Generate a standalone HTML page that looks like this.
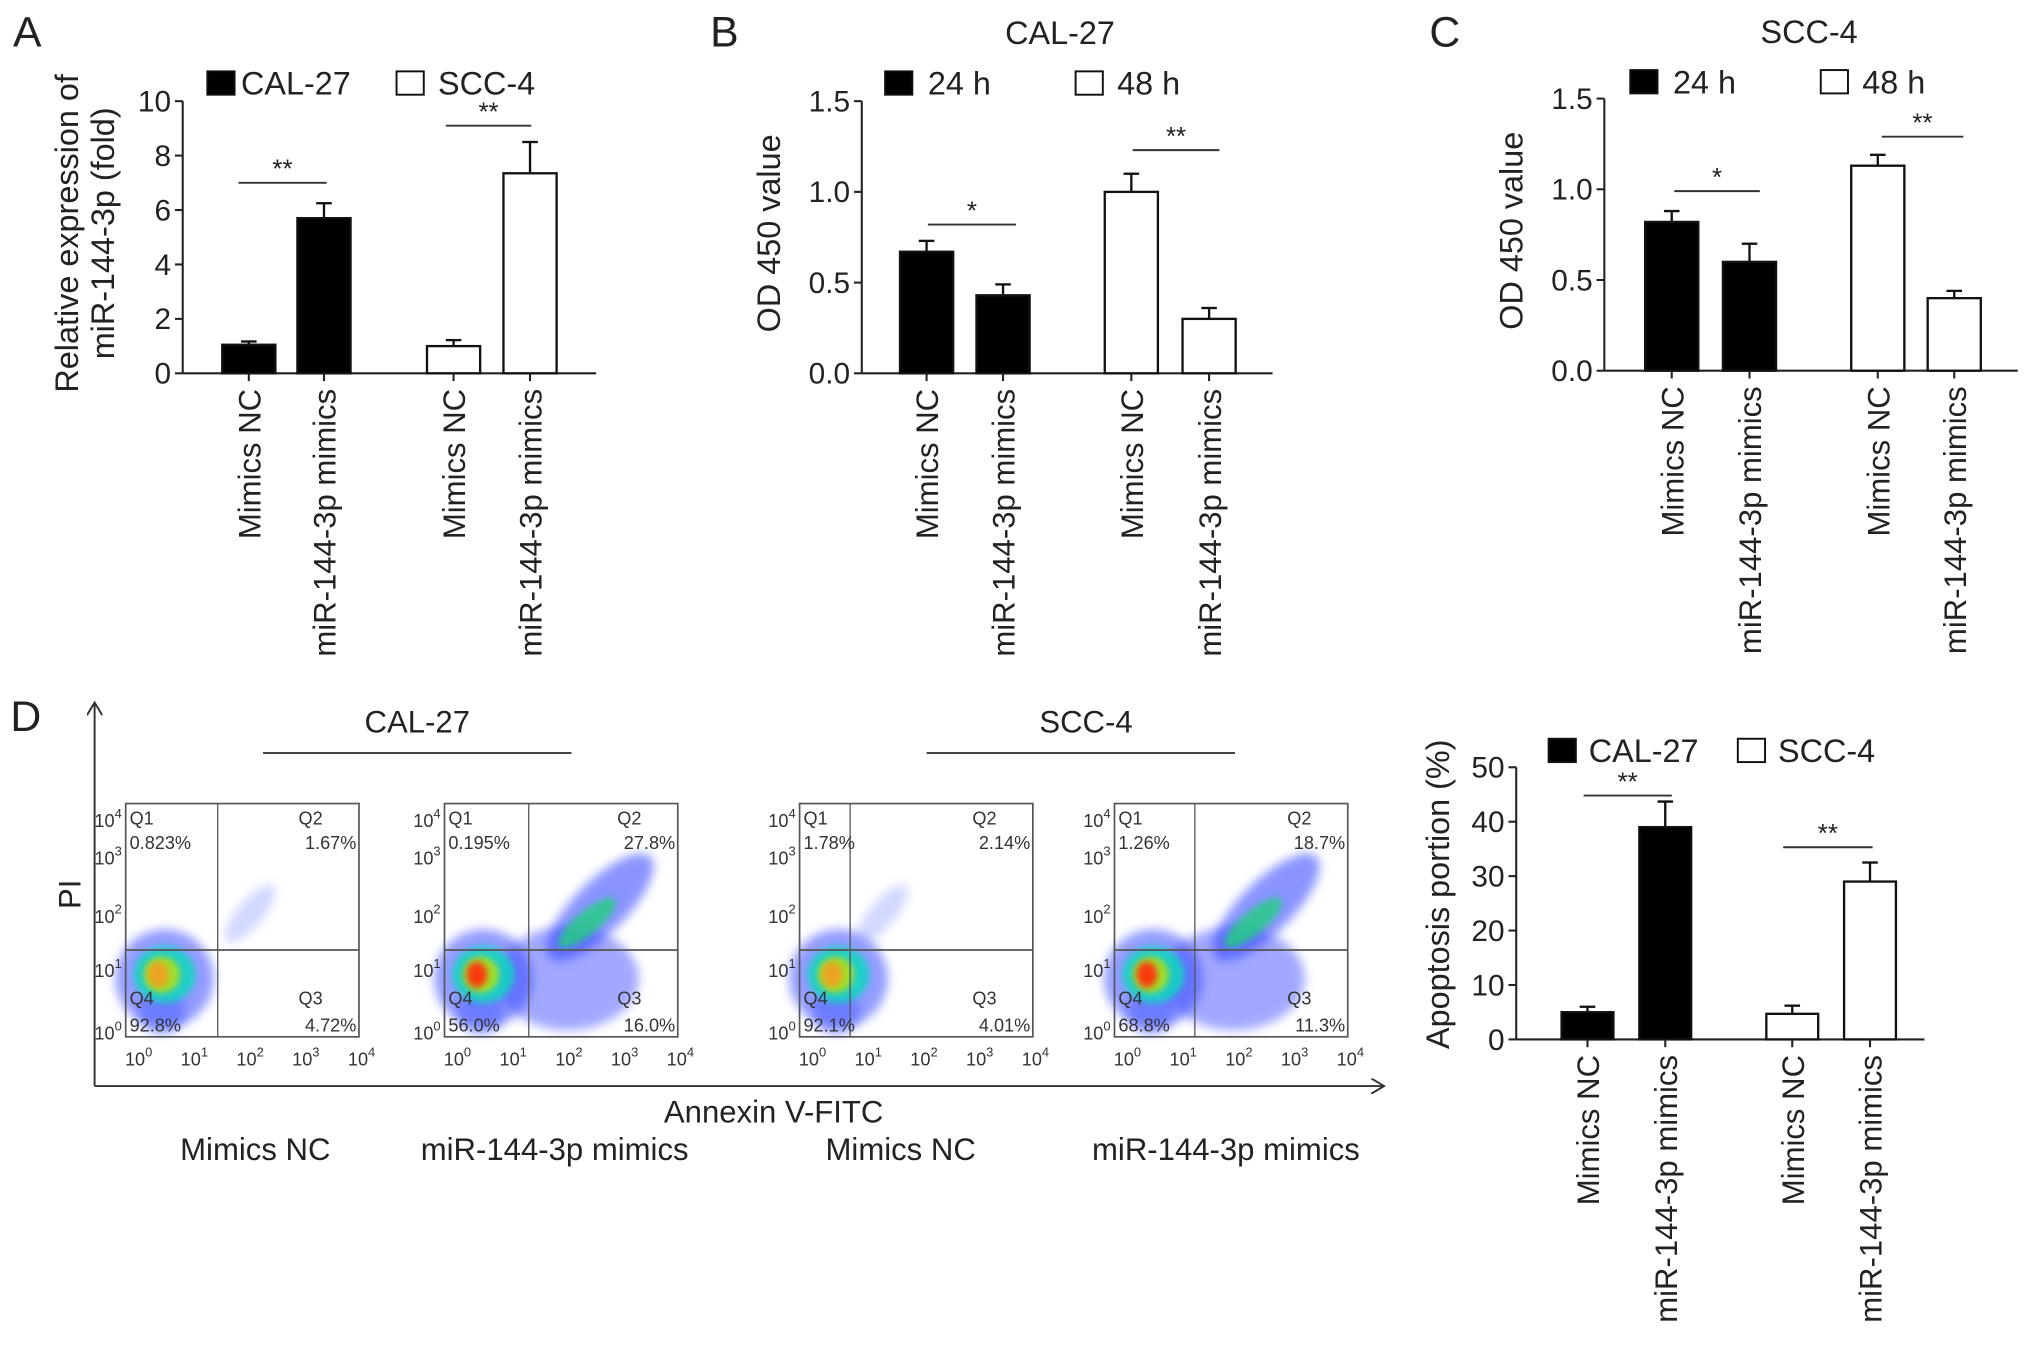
<!DOCTYPE html>
<html><head><meta charset="utf-8"><style>
html,body{margin:0;padding:0;background:#fff}
svg{display:block;font-family:"Liberation Sans",Arial,sans-serif}
</style></head><body>
<svg id="fig" width="2032" height="1357" viewBox="0 0 1568 1047" xmlns="http://www.w3.org/2000/svg">
<defs>
<filter id="blur" x="-50%" y="-50%" width="200%" height="200%"><feGaussianBlur stdDeviation="4"/></filter>
<filter id="blur2" x="-50%" y="-50%" width="200%" height="200%"><feGaussianBlur stdDeviation="2.5"/></filter>
<marker id="arr" markerWidth="12" markerHeight="12" refX="10" refY="6" orient="auto" markerUnits="userSpaceOnUse"><path d="M0,0 L10,6 L0,12" fill="none" stroke="#333" stroke-width="1.5"/></marker>
</defs>
<g id="root"></g>
</svg>
<script>
// ---- Panel A data ----
const aCategories = ["Mimics NC","miR-144-3p mimics","Mimics NC","miR-144-3p mimics"];
const aValues = [1.05, 5.7, 1.0, 7.35];
const aErrors = [0.12, 0.55, 0.22, 1.15];
const aTicks = [0,2,4,6,8,10];
// ---- Panel B data ----
const bCategories = ["Mimics NC","miR-144-3p mimics","Mimics NC","miR-144-3p mimics"];
const bValues = [0.67, 0.43, 1.0, 0.30];
const bErrors = [0.06, 0.06, 0.10, 0.06];
const bTicks = ["0.0","0.5","1.0","1.5"];
// ---- Panel C data ----
const cCategories = ["Mimics NC","miR-144-3p mimics","Mimics NC","miR-144-3p mimics"];
const cValues = [0.82, 0.60, 1.13, 0.40];
const cErrors = [0.06, 0.10, 0.06, 0.04];
const cTicks = ["0.0","0.5","1.0","1.5"];
// ---- Panel D bar data ----
const dCategories = ["Mimics NC","miR-144-3p mimics","Mimics NC","miR-144-3p mimics"];
const dValues = [5.0, 39.0, 4.7, 29.0];
const dErrors = [1.0, 4.7, 1.5, 3.5];
const dTicks = [0,10,20,30,40,50];
// ---- Flow quadrant percentages ----
const flowQ1 = ["0.823%","0.195%","1.78%","1.26%"];
const flowQ2 = ["1.67%","27.8%","2.14%","18.7%"];
const flowQ3 = ["4.72%","16.0%","4.01%","11.3%"];
const flowQ4 = ["92.8%","56.0%","92.1%","68.8%"];

const NS="http://www.w3.org/2000/svg";
const root=document.getElementById('root');
function el(tag,attrs,parent,text){const e=document.createElementNS(NS,tag);for(const k in attrs)e.setAttribute(k,attrs[k]);if(text!==undefined)e.textContent=text;(parent||root).appendChild(e);return e;}
function txt(x,y,s,size,anchor,parent,extra){const t=el('text',Object.assign({x:x,y:y,'font-size':size,'text-anchor':anchor||'start',fill:'#222'},extra||{}),parent,s);return t;}

function barChart(o){
  const g=el('g',{});
  
  
  const ymax=o.ymax;
  const y=v=>o.base-(v/ymax)*(o.base-o.top);
  // axes
  const ax=el('line',{x1:o.ax,y1:o.top,x2:o.ax,y2:o.base,stroke:'#222','stroke-width':1.6},g);
  
  const xa=el('line',{x1:o.ax,y1:o.base,x2:o.xend,y2:o.base,stroke:'#222','stroke-width':1.6},g);
  
  o.ticks.forEach(t=>{const v=parseFloat(t);const yy=y(v);
    el('line',{x1:o.ax-6,y1:yy,x2:o.ax,y2:yy,stroke:'#222','stroke-width':1.6},g);
    const tl=txt(o.ax-9,yy+8,String(t),23,'end',g);
    
  });
  o.values.forEach((v,i)=>{
    const cx=o.centers[i],w=o.bw;
    const fill=i<2?o.fill1:o.fill2;
    const r=el('rect',{x:cx-w/2,y:y(v),width:w,height:o.base-y(v),fill:fill,stroke:'#111','stroke-width':1.8},g);
    
    const et=y(v+o.errors[i]);
    const eb=el('line',{x1:cx,y1:y(v),x2:cx,y2:et,stroke:'#111','stroke-width':1.8},g);
    
    el('line',{x1:cx-6,y1:et,x2:cx+6,y2:et,stroke:'#111','stroke-width':1.8},g);
    el('line',{x1:cx,y1:o.base,x2:cx,y2:o.base+6,stroke:'#222','stroke-width':1.6},g);
    const lt=txt(0,0,o.cats[i],24,'end',g,{transform:`translate(${cx+9},${o.base+12}) rotate(-90)`});
    
  });
  o.sig.forEach(s=>{
    const yy=y(s.v);
    const l=el('line',{x1:s.x1,y1:yy,x2:s.x2,y2:yy,stroke:'#333','stroke-width':1.5},g);
    
    const st=txt((s.x1+s.x2)/2,yy-4,s.t,20,'middle',g);
    
  });
  // legend
  const lg=el('g',{},g);
  const l1=el('rect',{x:o.leg[0],y:o.legY,width:21,height:18,fill:o.fill1,stroke:'#111','stroke-width':1.5},lg);
  
  const lt1=txt(o.leg[0]+(o.legGap||30),o.legY+18,o.legText[0],25,'start',lg);
  
  const l2=el('rect',{x:o.leg[1],y:o.legY,width:21,height:18,fill:o.fill2,stroke:'#111','stroke-width':1.5},lg);
  
  const lt2=txt(o.leg[1]+(o.legGap2||30),o.legY+18,o.legText[1],25,'start',lg);
  
  if(o.title){const tt=txt(o.title[0],o.title[1],o.title[2],25,'middle',g);}
  o.ytitle.forEach(t=>{const yt=txt(0,0,t[2],25,'middle',g,{transform:`translate(${t[0]},${t[1]}) rotate(-90)`});});
  return g;
}

barChart({name:'panel-a-chart',ax:141,base:288,top:78,ymax:10,xend:460,ticks:aTicks,values:aValues,errors:aErrors,cats:aCategories,
  centers:[192,250,350,409],bw:41,fill1:'#000',fill2:'#fff',
  sig:[{x1:184,x2:252,v:7.0,t:'**'},{x1:344,x2:410,v:9.1,t:'**'}],
  leg:[160,306],legY:55,legText:['CAL-27','SCC-4'],legGap:26,legGap2:32,
  ytitle:[[60,180,'Relative expression of'],[88,180,'miR-144-3p (fold)']]});
barChart({name:'panel-b-chart',ax:665,base:288,top:78,ymax:1.5,xend:982,ticks:bTicks,values:bValues,errors:bErrors,cats:bCategories,
  centers:[715,774,873,933],bw:41,fill1:'#000',fill2:'#fff',
  sig:[{x1:716,x2:784,v:0.82,t:'*'},{x1:874,x2:941,v:1.23,t:'**'}],
  leg:[683,830],legY:55,legText:['24 h','48 h'],legGap:33,legGap2:32,title:[818,34,'CAL-27'],
  ytitle:[[602,180,'OD 450 value']]});
barChart({name:'panel-c-chart',ax:1238,base:286,top:76,ymax:1.5,xend:1557,ticks:cTicks,values:cValues,errors:cErrors,cats:cCategories,
  centers:[1290,1350,1449,1508],bw:41,fill1:'#000',fill2:'#fff',
  sig:[{x1:1292,x2:1358,v:0.99,t:'*'},{x1:1452,x2:1515,v:1.29,t:'**'}],
  leg:[1258,1405],legY:54,legText:['24 h','48 h'],legGap:33,legGap2:32,title:[1396,33,'SCC-4'],
  ytitle:[[1175,178,'OD 450 value']]});
barChart({name:'panel-d-bar-chart',ax:1170,base:802,top:592,ymax:50,xend:1485,ticks:dTicks,values:dValues,errors:dErrors,cats:dCategories,
  centers:[1225,1285,1383,1443],bw:40,fill1:'#000',fill2:'#fff',
  sig:[{x1:1222,x2:1290,v:44.8,t:'**'},{x1:1376,x2:1445,v:35.3,t:'**'}],
  leg:[1195,1341],legY:570,legText:['CAL-27','SCC-4'],legGap:31,legGap2:31,
  ytitle:[[1118,690,'Apoptosis portion (%)']]});

// Panel letters
[['A',10,36],['B',548,36],['C',1103,36],['D',8,564]].forEach(p=>{const t=txt(p[1],p[2],p[0],33,'start');});

// Flow cytometry section
const ya=el('line',{x1:73,y1:838,x2:73,y2:542,stroke:'#333','stroke-width':1.5,'marker-end':'url(#arr)'});

const xa=el('line',{x1:73,y1:838,x2:1068,y2:838,stroke:'#333','stroke-width':1.5,'marker-end':'url(#arr)'});

let t=txt(0,0,'PI',24,'middle',root,{transform:'translate(62,690) rotate(-90)'});
t=txt(597,866,'Annexin V-FITC',24,'middle');
t=txt(322,565,'CAL-27',24,'middle');
t=txt(838,565,'SCC-4',24,'middle');
let l=el('line',{x1:203,y1:581,x2:441,y2:581,stroke:'#444','stroke-width':1.5});
l=el('line',{x1:715,y1:581,x2:953,y2:581,stroke:'#444','stroke-width':1.5});
[['Mimics NC',197],['miR-144-3p mimics',428],['Mimics NC',695],['miR-144-3p mimics',946]].forEach(b=>{const tt=txt(b[1],895,b[0],24,'middle');});

const plotsX=[97,343,617,860];
const vLines=[168,408,656,922];
const apoptotic=[0,1,0,1];
plotsX.forEach((x0,i)=>{
  const g=el('g',{});
  
  
  const w=180,top=620,bot=800,hy=733,vx=vLines[i];
  // density blobs
  const bl=el('g',{},g);
  el('ellipse',{cx:x0+30,cy:755,rx:38,ry:38,fill:'#3a4cff',opacity:0.55,filter:'url(#blur)'},bl);
  el('ellipse',{cx:x0+28,cy:780,rx:18,ry:18,fill:'#4a5cff',opacity:0.5,filter:'url(#blur)'},bl);
  if(apoptotic[i]){
    el('ellipse',{cx:vx+30,cy:755,rx:55,ry:40,fill:'#3040ff',opacity:0.45,filter:'url(#blur)'},bl);
    el('ellipse',{cx:vx+55,cy:700,rx:55,ry:20,fill:'#2a3cff',opacity:0.55,filter:'url(#blur)',transform:`rotate(-45 ${vx+55} 700)`},bl);
    el('ellipse',{cx:vx+45,cy:712,rx:28,ry:9,fill:'#20d080',opacity:0.8,filter:'url(#blur2)',transform:`rotate(-40 ${vx+45} 712)`},bl);
  } else {
    el('ellipse',{cx:vx+25,cy:705,rx:28,ry:10,fill:'#8090ff',opacity:0.35,filter:'url(#blur)',transform:`rotate(-50 ${vx+25} 705)`},bl);
  }
  el('ellipse',{cx:x0+30,cy:752,rx:24,ry:22,fill:'#10d8c0',opacity:0.85,filter:'url(#blur2)'},bl);
  el('ellipse',{cx:x0+28,cy:752,rx:14,ry:14,fill:'#a8e020',opacity:0.95,filter:'url(#blur2)'},bl);
  el('ellipse',{cx:x0+25,cy:752,rx:8,ry:10,fill:apoptotic[i]?'#ff3010':'#f0a020',opacity:0.95,filter:'url(#blur2)'},bl);
  // frame
  el('rect',{x:x0,y:top,width:w,height:bot-top,fill:'none',stroke:'#555','stroke-width':1.3},g);
  el('line',{x1:vx,y1:top,x2:vx,y2:bot,stroke:'#555','stroke-width':1},g);
  el('line',{x1:x0,y1:hy,x2:x0+w,y2:hy,stroke:'#555','stroke-width':1.3},g);
  // ticks
  [0,1,2,3,4].forEach(k=>{
    const tx=x0+10+k*43;
    const tl=el('text',{x:tx,y:822,'font-size':14,'text-anchor':'middle',fill:'#333'},g);
    tl.innerHTML='10<tspan dy="-7" font-size="10">'+k+'</tspan>';
    
  });
  [[4,638],[3,667],[2,712],[1,754],[0,802]].forEach(p=>{
    const tl=el('text',{x:x0-3,y:p[1],'font-size':14,'text-anchor':'end',fill:'#333'},g);
    tl.innerHTML='10<tspan dy="-7" font-size="10">'+p[0]+'</tspan>';
    
  });
  const q=(s,xx,yy,a)=>{const e=el('text',{x:xx,y:yy,'font-size':14,'text-anchor':a,fill:'#333'},g,s);};
  q('Q1',x0+3,636,'start');q(flowQ1[i],x0+3,655,'start');
  q('Q2',x0+w-28,636,'end');q(flowQ2[i],x0+w-2,655,'end');
  q('Q4',x0+3,775,'start');q(flowQ4[i],x0+3,796,'start');
  q('Q3',x0+w-28,775,'end');q(flowQ3[i],x0+w-2,796,'end');
});
</script>
</body></html>
